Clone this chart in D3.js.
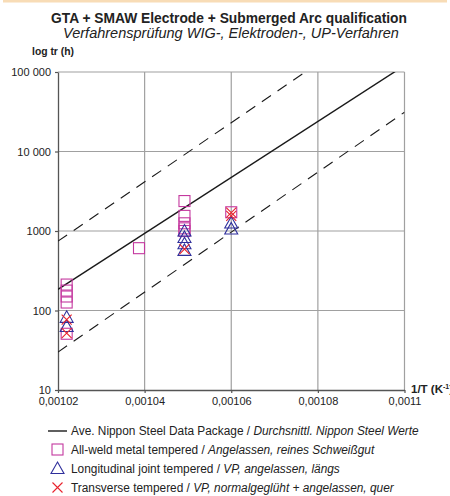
<!DOCTYPE html>
<html>
<head>
<meta charset="utf-8">
<script src="https://cdn.jsdelivr.net/npm/d3@7"></script>
<style>
  body { margin: 0; background: #fff; }
  svg text { font-family: "Liberation Sans", Arial, Helvetica, sans-serif; fill: #222; }
</style>
</head>
<body>
<div id="chart"></div>
<script>
// data
var xTicks = [0.00102, 0.00104, 0.00106, 0.00108, 0.0011];
var xTickLabels = ["0,00102", "0,00104", "0,00106", "0,00108", "0,0011"];
var yTicks = [10, 100, 1000, 10000, 100000];
var yTickLabels = ["10", "100", "1000", "10 000", "100 000"];

// lines: 1/T at both ends, hours at both ends
var lineInvT = [0.00102, 0.0011];
var aveNippon = [184, 120800];
var upperBand = [745, 713000];
var lowerBand = [30, 31200];

// scatter: [1/T, tr (h)]
var allWeld = [
  [0.001022, 212], [0.001022, 178], [0.001022, 150], [0.001022, 126], [0.001022, 51],
  [0.0010387, 608],
  [0.0010492, 2380], [0.0010492, 1550], [0.0010492, 1250], [0.0010492, 1080], [0.0010492, 1000],
  [0.00106, 1720]
];
var longitudinal = [
  [0.001022, 82], [0.001022, 63],
  [0.0010492, 1000], [0.0010492, 830], [0.0010492, 690], [0.0010492, 570],
  [0.00106, 1260], [0.00106, 1060]
];
var transverse = [
  [0.001022, 77], [0.001022, 52],
  [0.0010492, 590],
  [0.00106, 1700], [0.00106, 1550]
];

var width = 450, height = 496;
var x0 = 58, x1 = 404.5, yTop = 72, yBot = 390;

var svg = d3.select("#chart").append("svg")
    .attr("width", width)
    .attr("height", height);

// size a text so it spans the given width
function fitText(sel, target) {
  var fs = parseFloat(sel.style("font-size"));
  var w = sel.node().getComputedTextLength();
  if (w > 0) sel.style("font-size", (fs * target / w).toFixed(2) + "px");
  return sel;
}

// thin orange strip on top
svg.append("rect")
    .attr("x", 3).attr("y", 0)
    .attr("width", 444).attr("height", 2.5)
    .attr("fill", "#f8dcb6");

var x = d3.scaleLinear().domain([0.00102, 0.0011]).range([x0, x1]);
var y = d3.scaleLog().domain([10, 100000]).range([yBot, yTop]);

// titles
fitText(svg.append("text")
    .attr("x", 229).attr("y", 23)
    .attr("text-anchor", "middle")
    .style("font-size", "13px")
    .style("font-weight", "bold")
    .text("GTA + SMAW Electrode + Submerged Arc qualification"), 356);
fitText(svg.append("text")
    .attr("x", 231).attr("y", 38)
    .attr("text-anchor", "middle")
    .style("font-size", "13px")
    .style("font-style", "italic")
    .text("Verfahrensprüfung WIG-, Elektroden-, UP-Verfahren"), 336);

fitText(svg.append("text")
    .attr("x", 32).attr("y", 55)
    .style("font-size", "11px")
    .style("font-weight", "bold")
    .text("log tr (h)"), 42);

// grid
var grid = svg.append("g");
grid.selectAll("line.h")
    .data(yTicks.slice(1))
    .enter().append("line")
    .attr("class", "h")
    .attr("x1", x0).attr("x2", x1)
    .attr("y1", d => y(d)).attr("y2", d => y(d))
    .attr("stroke", "#a0a0a0").attr("stroke-width", 1.2);
grid.selectAll("line.v")
    .data(xTicks.slice(1))
    .enter().append("line")
    .attr("class", "v")
    .attr("x1", d => x(d)).attr("x2", d => x(d))
    .attr("y1", yTop).attr("y2", yBot)
    .attr("stroke", "#a0a0a0").attr("stroke-width", 1.2);

// axes
var yAxis = d3.axisLeft(y)
    .tickValues(yTicks)
    .tickFormat((d, i) => yTickLabels[i])
    .tickSizeInner(3).tickSizeOuter(0).tickPadding(4);
var gy = svg.append("g").attr("transform", "translate(" + x0 + ",0)").call(yAxis);

var xAxis = d3.axisBottom(x)
    .tickValues(xTicks)
    .tickFormat((d, i) => xTickLabels[i])
    .tickSizeInner(3).tickSizeOuter(0).tickPadding(4);
var gx = svg.append("g").attr("transform", "translate(0," + yBot + ")").call(xAxis);

[gx, gy].forEach(function(g) {
  g.select(".domain").attr("stroke", "#555").attr("stroke-width", 1.3);
  g.selectAll(".tick line").attr("stroke", "#555").attr("stroke-width", 1.2);
  g.selectAll(".tick text")
    .style("font-size", "11px")
    .style("font-family", "\"Liberation Sans\", Arial, sans-serif")
    .attr("fill", "#222");
});

svg.append("text")
    .attr("x", 411).attr("y", 393)
    .style("font-size", "11.5px")
    .style("font-weight", "bold")
    .html("1/T (K<tspan dy='-4' style='font-size:7px'>-1</tspan><tspan dy='4'>)</tspan>");

// lines, clipped to the plot area
svg.append("clipPath").attr("id", "plot")
  .append("rect").attr("x", x0).attr("y", yTop)
  .attr("width", x1 - x0).attr("height", yBot - yTop);

var line = d3.line().x(d => x(d[0])).y(d => y(d[1]));
var lines = svg.append("g").attr("clip-path", "url(#plot)");

function pairs(vals) { return lineInvT.map((t, i) => [t, vals[i]]); }

lines.append("path").datum(pairs(aveNippon))
    .attr("d", line).attr("fill", "none")
    .attr("stroke", "#1a1a1a").attr("stroke-width", 1.4);
[upperBand, lowerBand].forEach(function(b) {
  lines.append("path").datum(pairs(b))
    .attr("d", line).attr("fill", "none")
    .attr("stroke", "#1a1a1a").attr("stroke-width", 1.1)
    .attr("stroke-dasharray", "11,8");
});

// markers
var sqColor = "#c4389f", triColor = "#2f2f9c", xColor = "#e8232d";
var sq = 11;

function drawSquare(g, cx, cy) {
  g.append("rect")
    .attr("x", cx - sq / 2).attr("y", cy - sq / 2)
    .attr("width", sq).attr("height", sq)
    .attr("fill", "none").attr("stroke", sqColor).attr("stroke-width", 1.1);
}
function drawTriangle(g, cx, cy) {
  g.append("path")
    .attr("d", "M" + cx + "," + (cy - 6.5) + "L" + (cx + 6.5) + "," + (cy + 5) + "L" + (cx - 6.5) + "," + (cy + 5) + "Z")
    .attr("fill", "none").attr("stroke", triColor).attr("stroke-width", 1.1);
}
function drawCross(g, cx, cy) {
  g.append("path")
    .attr("d", "M" + (cx - 5) + "," + (cy - 5) + "L" + (cx + 5) + "," + (cy + 5) + "M" + (cx + 5) + "," + (cy - 5) + "L" + (cx - 5) + "," + (cy + 5))
    .attr("fill", "none").attr("stroke", xColor).attr("stroke-width", 1.1);
}

var pts = svg.append("g");
allWeld.forEach(d => drawSquare(pts, x(d[0]), y(d[1])));
longitudinal.forEach(d => drawTriangle(pts, x(d[0]), y(d[1])));
transverse.forEach(d => drawCross(pts, x(d[0]), y(d[1])));

// legend
var legendRows = [
  ["Ave. Nippon Steel Data Package / ", "Durchsnittl. Nippon Steel Werte"],
  ["All-weld metal tempered / ", "Angelassen, reines Schweißgut"],
  ["Longitudinal joint tempered / ", "VP, angelassen, längs"],
  ["Transverse tempered / ", "VP, normalgeglüht + angelassen, quer"]
];
var legend = svg.append("g");
var rowY = [431, 449.5, 468.5, 487.5];
var legendTexts = legendRows.map(function(r, i) {
  var t = legend.append("text")
    .attr("x", 71).attr("y", rowY[i] + 4)
    .style("font-size", "11px");
  t.append("tspan").text(r[0]);
  t.append("tspan").style("font-style", "italic").text(r[1]);
  return t;
});
// first row spans 71..419 in the reference; use that size for all rows
fitText(legendTexts[0], 348);
legendTexts.forEach(t => t.style("font-size", legendTexts[0].style("font-size")));

legend.append("line")
    .attr("x1", 48).attr("x2", 67)
    .attr("y1", rowY[0]).attr("y2", rowY[0])
    .attr("stroke", "#1a1a1a").attr("stroke-width", 1.4);
drawSquare(legend, 57.5, rowY[1]);
drawTriangle(legend, 57.5, rowY[2]);
drawCross(legend, 57.5, rowY[3]);
</script>
</body>
</html>
